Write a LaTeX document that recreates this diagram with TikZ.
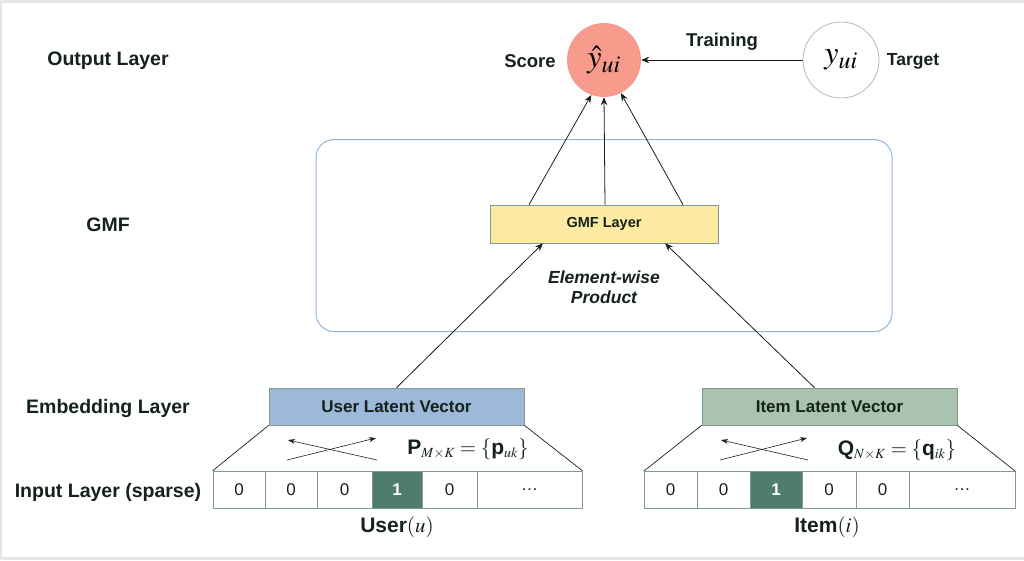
\documentclass[tikz,border=0pt]{standalone}
\usepackage{mathptmx}
\usepackage[no-math]{fontspec}
\setmainfont{Liberation Sans}
\usetikzlibrary{arrows.meta,calc}
\DeclareMathSizes{32}{32}{24}{18}
\DeclareMathSizes{21}{21}{14}{11}
\definecolor{txt}{HTML}{14221A}
\definecolor{scorefill}{HTML}{F89B8D}
\definecolor{userfill}{HTML}{9DB9DA}
\definecolor{itemfill}{HTML}{A9C3AE}
\definecolor{gmffill}{HTML}{FCEAA2}
\definecolor{onefill}{HTML}{4E7D6B}
\definecolor{frameblue}{HTML}{93B4DC}
\definecolor{boxedge}{HTML}{7F9C8C}
\definecolor{tgtedge}{HTML}{A8C2AE}
\definecolor{bordergray}{HTML}{E6E6E6}
\tikzset{
  lbl/.style={text=txt,font=\fontsize{19.5}{21}\selectfont\bfseries,inner sep=0pt},
  lvbox/.style={draw=boxedge,line width=0.6pt,minimum height=37pt,inner sep=0pt,text=txt,font=\fontsize{17}{19}\selectfont\bfseries},
  cell/.style={draw=boxedge,line width=0.6pt,minimum height=37pt,inner sep=0pt,text=txt,font=\fontsize{17}{19}\selectfont},
  onecell/.style={cell,fill=onefill,text=white,font=\fontsize{17}{19}\selectfont\bfseries},
  arr/.style={-{Stealth[length=8pt,width=6.5pt]},line width=0.8pt,draw=txt},
  ln/.style={line width=0.7pt,draw=txt}
}
\begin{document}
\begin{tikzpicture}[x=1pt,y=-1pt]
\useasboundingbox (0,0) rectangle (1024,560);
\fill[bordergray] (0,0) rectangle (1024,2.5);
\fill[bordergray] (0,0) rectangle (1.5,560);
\fill[bordergray] (0,557) rectangle (1024,560);

% left labels
\node[lbl] (lout) at (108,61) {Output Layer};
\node[lbl] (lgmf) at (108,225) {GMF};
\node[lbl] (lemb) at (108,408) {Embedding Layer};
\node[lbl] (linp) at (108,492) {Input Layer (sparse)};

% GMF frame
\node[draw=frameblue,line width=1pt,rounded corners=18pt,minimum width=576pt,minimum height=192pt,inner sep=0pt] (frame) at (604,235.5) {};

% output
\node[circle,fill=scorefill,minimum size=74pt,inner sep=0pt,text=black] (score) at (604,60) {\fontsize{32}{34}\selectfont$\hat{y}_{ui}$};
\node[circle,draw=tgtedge,line width=0.8pt,minimum size=76pt,inner sep=0pt,text=black] (target) at (841,60) {\fontsize{32}{34}\selectfont$y_{ui}$};
\node[lbl,font=\fontsize{18.5}{20}\selectfont\bfseries] (lscore) at (530,61) {Score};
\node[lbl,font=\fontsize{17.5}{19}\selectfont\bfseries] (ltarget) at (913,61) {Target};
\node[lbl,font=\fontsize{18.5}{20}\selectfont\bfseries] (ltrain) at (722,42) {Training};
\draw[arr] (target.west) -- (score.east);

% GMF layer
\node[draw=boxedge,line width=0.6pt,fill=gmffill,minimum width=228pt,minimum height=38pt,inner sep=0pt,text=txt,font=\fontsize{14.5}{16}\selectfont\bfseries] (gmf) at (604,224) {GMF Layer};
\draw[arr] ([xshift=-75pt]gmf.north) -- (score.250);
\draw[arr] ([xshift=1pt]gmf.north) -- (score.270);
\draw[arr] ([xshift=79pt]gmf.north) -- (score.297);
\node[lbl,font=\fontsize{17.5}{19}\selectfont\bfseries\itshape,align=center] (ew) at (604,287) {Element-wise\\[1pt]Product};

% user side
\node[lvbox,fill=userfill,minimum width=255pt] (ulv) at (396.5,406.5) {User Latent Vector};
\node[cell,minimum width=52pt] (u1) at (239,489.5) {0};
\node[cell,minimum width=52pt] (u2) at (291,489.5) {0};
\node[cell,minimum width=55pt] (u3) at (344.5,489.5) {0};
\node[onecell,minimum width=50pt] (u4) at (397,489.5) {1};
\node[cell,minimum width=55pt] (u5) at (449.5,489.5) {0};
\node[cell,minimum width=105pt] (u6) at (529.5,489.5) {\dots};
\draw[ln] (ulv.south west) -- (u1.north west);
\draw[ln] (ulv.south east) -- (u6.north east);
\coordinate (ua1) at (287,460); \coordinate (ub1) at (376,438);
\coordinate (ua2) at (377,460); \coordinate (ub2) at (288,440);
\draw[arr,line width=0.6pt,-{Stealth[length=7pt,width=5pt]}] (ua1) -- (ub1);
\draw[arr,line width=0.6pt,-{Stealth[length=7pt,width=5pt]}] (ua2) -- (ub2);
\node[inner sep=0pt,text=txt] (pl) at (468,449) {\fontsize{21}{23}\selectfont\textbf{P}$_{M\times K}=\{$\textbf{p}$_{uk}\}$};
\node[inner sep=0pt,text=txt] (ulab) at (397,527) {\fontsize{21}{23}\selectfont\textbf{User}$(u)$};
\draw[arr] (ulv.north) -- ([xshift=-61pt]gmf.south);

% item side
\node[lvbox,fill=itemfill,minimum width=255pt] (ilv) at (829.5,406.5) {Item Latent Vector};
\node[cell,minimum width=53pt] (i1) at (670.5,490) {0};
\node[cell,minimum width=53pt] (i2) at (723.5,490) {0};
\node[onecell,minimum width=52pt] (i3) at (776,490) {1};
\node[cell,minimum width=54pt] (i4) at (829,490) {0};
\node[cell,minimum width=53pt] (i5) at (882.5,490) {0};
\node[cell,minimum width=106pt] (i6) at (962,490) {\dots};
\draw[ln] (ilv.south west) -- (i1.north west);
\draw[ln] (ilv.south east) -- (i6.north east);
\coordinate (ia1) at (720,460); \coordinate (ib1) at (807,438);
\coordinate (ia2) at (808,460); \coordinate (ib2) at (721,440);
\draw[arr,line width=0.6pt,-{Stealth[length=7pt,width=5pt]}] (ia1) -- (ib1);
\draw[arr,line width=0.6pt,-{Stealth[length=7pt,width=5pt]}] (ia2) -- (ib2);
\node[inner sep=0pt,text=txt] (ql) at (897,450) {\fontsize{21}{23}\selectfont\textbf{Q}$_{N\times K}=\{$\textbf{q}$_{ik}\}$};
\node[inner sep=0pt,text=txt] (ilab) at (827,527) {\fontsize{21}{23}\selectfont\textbf{Item}$(i)$};
\draw[arr] ([xshift=-15pt]ilv.north) -- ([xshift=61pt]gmf.south);
\end{tikzpicture}
\end{document}
